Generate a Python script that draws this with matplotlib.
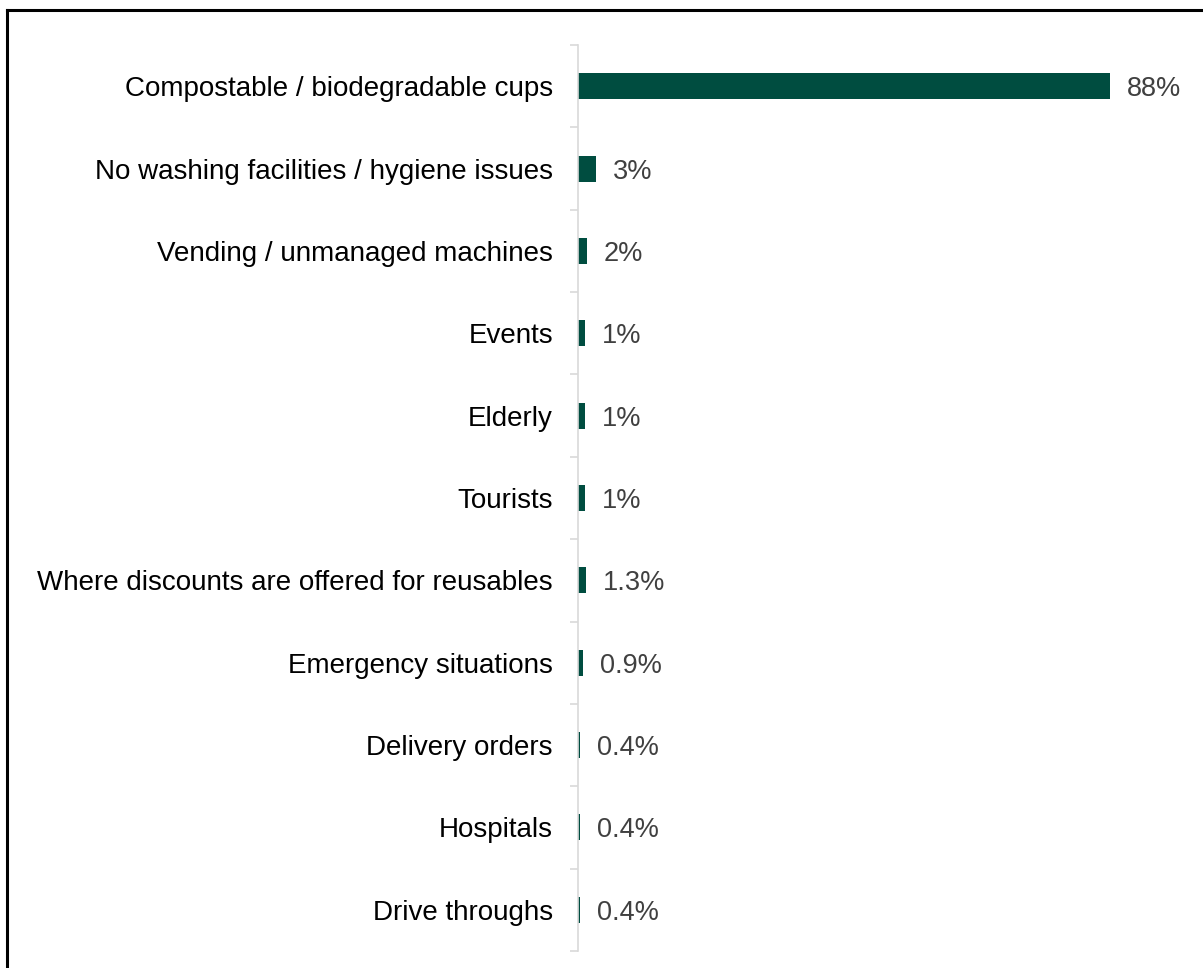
import matplotlib
matplotlib.use("Agg")
from matplotlib import pyplot as plt
from matplotlib.lines import Line2D

plt.rcParams['font.family'] = ['Liberation Sans', 'DejaVu Sans']

categories = ["Compostable / biodegradable cups",
              "No washing facilities / hygiene issues",
              "Vending / unmanaged machines",
              "Events",
              "Elderly",
              "Tourists",
              "Where discounts are offered for reusables",
              "Emergency situations",
              "Delivery orders",
              "Hospitals",
              "Drive throughs"]
values = [88, 3, 1.5, 1.2, 1.2, 1.2, 1.3, 0.9, 0.4, 0.4, 0.4]
labels = ["88%", "3%", "2%", "1%", "1%", "1%", "1.3%", "0.9%", "0.4%", "0.4%", "0.4%"]

W, H = 1203, 968
fig = plt.figure(figsize=(W / 100, H / 100), dpi=100)
ax = fig.add_axes([578 / W, (H - 951) / H, 605 / W, 906 / H])

y = list(range(len(categories)))
ax.barh(y, values, height=0.315, color="#004D40")
ax.set_ylim(len(categories) - 0.5, -0.5)
ax.set_xlim(0, 100)

for yi, v, lab in zip(y, values, labels):
    ax.annotate(lab, (v, yi), xytext=(12, 0), textcoords="offset points",
                va="center_baseline", ha="left", fontsize=19.5, color="#404040")

ax.set_yticks(y)
ax.set_yticklabels(categories, fontsize=20, color="black")
ax.tick_params(axis="y", which="major", length=0, pad=18)
ax.set_yticks([i - 0.5 for i in range(len(categories) + 1)], minor=True)
ax.tick_params(axis="y", which="minor", length=6, color="#d9d9d9", width=1.2)
ax.set_xticks([])
for s in ["top", "right", "bottom"]:
    ax.spines[s].set_visible(False)
ax.spines["left"].set_color("#d9d9d9")
ax.spines["left"].set_linewidth(1.2)

# cropped frame round the picture: top and left edges only
fig.add_artist(Line2D([7 / W, 1], [1 - 10 / H, 1 - 10 / H], color="black", lw=2.2,
                      transform=fig.transFigure))
fig.add_artist(Line2D([7 / W, 7 / W], [0, 1 - 10 / H], color="black", lw=2.2,
                      transform=fig.transFigure))

fig.savefig("out.png", dpi=100)
